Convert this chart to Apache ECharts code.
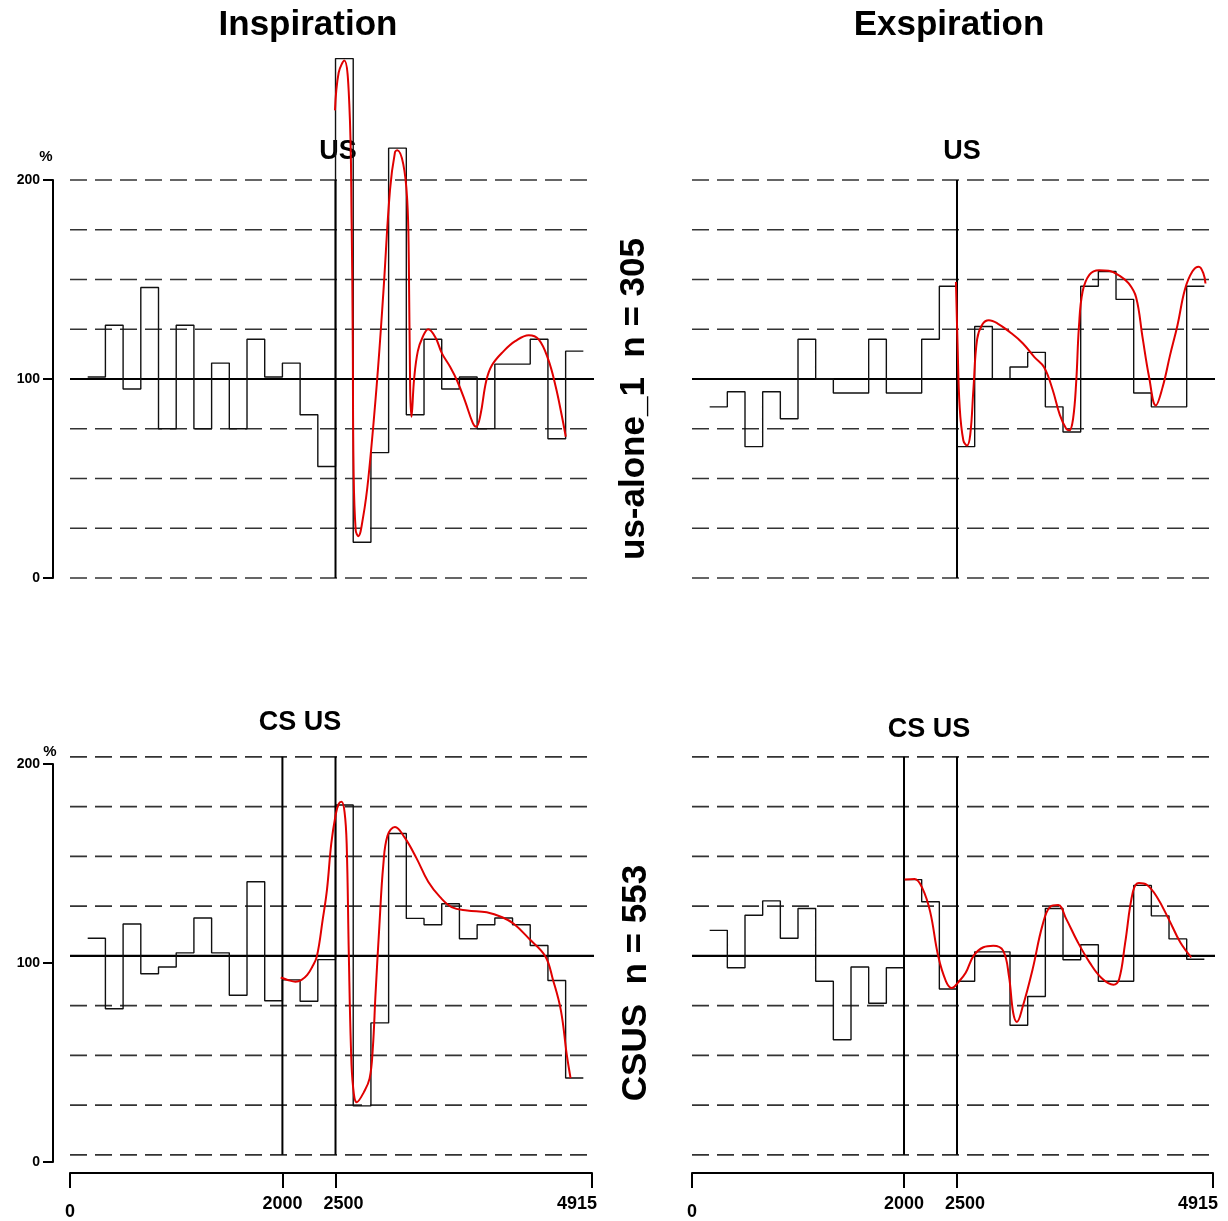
<!DOCTYPE html>
<html><head><meta charset="utf-8">
<script src="https://cdn.jsdelivr.net/npm/echarts@6/dist/echarts.min.js"></script>
<style>html,body{margin:0;padding:0;background:#fff}#c{width:1228px;height:1221px}</style>
</head><body><div id="c"></div>
<script>
// ---- data ----
const binStart = 166.67, binWidth = 166.67;   // ms
const xTicks = [0, 2000, 2500, 4915];
const yTicks = [0, 100, 200];

// histogram (% per bin), 28 bins
const inspUS  = [101,127,95,146,75,127,75,108,75,120,101,108,82,56,261,18,63,216,82,120,95,101,75,107.5,107.5,120,70,114];
const expUS   = [86,93.6,66,93.6,80,120,100,93,93,120,93,93,120,146.6,66,126.4,100,106,113.4,86,73.4,146.6,154,140,93,86,86,146.6];
const inspCSUS= [112.4,77,119.6,94.6,98,105.1,122.6,105.1,83.8,140.8,81,91.5,80.8,101.7,179.4,28.2,69.9,165.1,122.4,119.2,129.8,112.2,119.2,122.6,119.2,108.8,91.2,42.2];
const expCSUS = [116.4,97.6,124,131.2,112.4,127.4,90.8,61.4,98,79.8,97.6,141.9,130.8,86.9,90.8,105.6,105.6,68.7,83.2,127.4,101.6,109.2,90.8,90.8,139,123.7,112.1,101.9];

// red smoothed curves
const inspUSfitX = [2495,2530,2583,2630,2652,2662,2670,2690,2714,2761,2809,2888,2950,3013,3060,3082,3138,3175,3190,3203,3215,3240,3275,3320,3373,3440,3501,3580,3646,3719,3792,3825,3865,3919,3974,4083,4192,4320,4411,4502,4574,4629,4668];
const inspUSfitY = [235,254,260,238,178,122,55,24,21,31,50,97,143,195,214,215,208,190,160,95,81,100,114,121,125,121,113,106,99,89,78,76,82,99,107,114,119,122,120,110,96,82,71];

const expUSfitX = [2490,2505,2525,2560,2595,2625,2655,2690,2740,2800,2880,3000,3120,3230,3320,3400,3470,3530,3560,3595,3625,3650,3685,3750,3840,3930,4030,4120,4190,4250,4312,4375,4440,4510,4580,4650,4720,4781,4825,4844];
const expUSfitY = [148.8,118,86,69.1,66.6,72,95,120,127.5,129.5,128,123.5,118,111,106,95,82,75,74.2,80,99,126,144,152.5,154.7,154.4,152,148,141,121,101,86.7,96,112,127,145,154,156.4,153,148];

const inspCSUSfitX = [1984,2050,2123,2180,2234,2280,2325,2380,2420,2460,2500,2530,2557,2585,2605,2625,2645,2665,2700,2766,2821,2851,2877,2913,2950,2990,3060,3152,3262,3373,3483,3593,3740,3924,4070,4181,4328,4475,4548,4622,4677,4713];
const inspCSUSfitY = [92.7,91.5,90.6,91.5,94,98,103.4,122,137,160,174,180,181,176,160,105,58,38,30,35,42,57,84.7,118.7,149.3,164,168.4,163,152.7,140.8,133.2,128.1,126.4,125.5,123,119.6,111.9,103.4,91.5,76.2,54.1,42.2];

const expCSUSfitX = [2006,2099,2173,2247,2322,2396,2452,2507,2582,2656,2749,2842,2935,2990,3030,3065,3120,3213,3306,3380,3455,3529,3640,3752,3863,3975,4030,4086,4160,4216,4290,4383,4495,4606,4710];
const expCSUSfitY = [141.9,142.2,137.6,125.7,103.6,90.8,87.4,90,95.1,103.6,107.9,108.7,106.2,93.4,75,70.4,78.1,96.8,118.9,128.3,129.1,122.3,110.4,100.2,92.5,89.1,92,110,135.9,140.2,139.3,133.4,122.3,110.4,102.8];

// reference lines
const gridTop = [0,25,50,75,125,150,175,200], baseTop = 100;
const gridBot = [3.6,28.6,53.6,78.6,128.6,153.6,178.6,203.6], baseBot = 103.6;
const eventsTop = [2500], eventsBot = [2000, 2500];

// ---- chart ----
const FONT = '"Liberation Sans", Arial, sans-serif';
const chart = echarts.init(document.getElementById('c'), null, {renderer: 'canvas'});

const grids = [
  {left: 70, top: 180, width: 522, height: 398},
  {left: 692, top: 180, width: 521, height: 398},
  {left: 70, top: 764, width: 522, height: 400},
  {left: 692, top: 764, width: 521, height: 400}
];

const LBL = {fontFamily: FONT, fontWeight: 'bold', fontSize: 18, color: '#000'};
function xAxisFor(i, show) {
  return {
    type: 'value', gridIndex: i, min: 0, max: 4915, show: show, offset: 11, position: 'bottom',
    axisLine: {show: show, onZero: false, lineStyle: {color: '#000', width: 2}},
    axisTick: {show: show, customValues: xTicks, length: 15, inside: false, lineStyle: {color: '#000', width: 2}},
    axisLabel: {show: show, customValues: xTicks, margin: 22, color: '#000',
      fontFamily: FONT, fontWeight: 'bold', fontSize: 18,
      formatter: function (v) {
        if (v === 0) return '{z|0}';
        if (v === 2500) return '{b|2500}';
        if (v === 4915) return '{e|4915}';
        return '{n|' + v + '}';
      },
      rich: {
        z: Object.assign({padding: [8, 0, 0, 0]}, LBL),
        n: Object.assign({}, LBL),
        b: Object.assign({padding: [0, 0, 0, 16]}, LBL),
        e: Object.assign({padding: [0, 30, 0, 0]}, LBL)
      }
    },
    splitLine: {show: false}
  };
}
function yAxisFor(i, show) {
  return {
    type: 'value', gridIndex: i, min: 0, max: 200, interval: 100, show: show, offset: 17, position: 'left',
    axisLine: {show: show, onZero: false, lineStyle: {color: '#000', width: 2}},
    axisTick: {show: show, length: 10, lineStyle: {color: '#000', width: 2}},
    axisLabel: {show: show, margin: 13, color: '#000', fontFamily: FONT, fontWeight: 'bold', fontSize: 14},
    splitLine: {show: false}
  };
}

const series = [];
function addPanel(gi, hist, fitX, fitY, gridVals, base, events) {
  const common = {xAxisIndex: gi, yAxisIndex: gi, type: 'line', symbol: 'none', silent: true, clip: false, animation: false};
  gridVals.forEach(v => series.push(Object.assign({}, common, {
    data: [[0, v], [4955, v]], z: 1,
    lineStyle: {color: '#333', width: 1.6, type: [17, 8]}
  })));
  series.push(Object.assign({}, common, {
    data: [[0, base], [4955, base]], z: 2, lineStyle: {color: '#000', width: 2.2}
  }));
  const histData = hist.map((v, k) => [binStart + k * binWidth, v]);
  histData.push([binStart + hist.length * binWidth, hist[hist.length - 1]]);
  series.push(Object.assign({}, common, {
    data: histData, step: 'end', z: 3, lineStyle: {color: '#111', width: 1.4}
  }));
  events.forEach(e => series.push(Object.assign({}, common, {
    data: [[e, gridVals[0]], [e, gridVals[gridVals.length - 1]]], z: 4, lineStyle: {color: '#000', width: 2}
  })));
  series.push(Object.assign({}, common, {
    data: fitX.map((x, k) => [x, fitY[k]]), smooth: 0.4, z: 5,
    lineStyle: {color: '#e00000', width: 2}
  }));
}
addPanel(0, inspUS, inspUSfitX, inspUSfitY, gridTop, baseTop, eventsTop);
addPanel(1, expUS, expUSfitX, expUSfitY, gridTop, baseTop, eventsTop);
addPanel(2, inspCSUS, inspCSUSfitX, inspCSUSfitY, gridBot, baseBot, eventsBot);
addPanel(3, expCSUS, expCSUSfitX, expCSUSfitY, gridBot, baseBot, eventsBot);

function txt(x, y, s, size, rot) {
  return {type: 'text', x: x, y: y, rotation: rot || 0, silent: true,
    style: {text: s, fill: '#000', font: 'bold ' + size + 'px ' + FONT, textAlign: 'center', textVerticalAlign: 'middle'}};
}

chart.setOption({
  backgroundColor: '#fff',
  animation: false,
  grid: grids,
  xAxis: [xAxisFor(0, false), xAxisFor(1, false), xAxisFor(2, true), xAxisFor(3, true)],
  yAxis: [yAxisFor(0, true), yAxisFor(1, false), yAxisFor(2, true), yAxisFor(3, false)],
  series: series,
  graphic: [
    txt(308, 25, 'Inspiration', 35),
    txt(949, 25, 'Exspiration', 35),
    txt(338, 152, 'US', 27),
    txt(962, 152, 'US', 27),
    txt(300, 723, 'CS US', 27),
    txt(929, 730, 'CS US', 27),
    txt(634, 399, 'us-alone_1  n = 305', 35, Math.PI / 2),
    txt(636, 983, 'CSUS  n = 553', 35, Math.PI / 2),
    txt(46, 157, '%', 15),
    txt(50, 752, '%', 15)
  ]
});
</script></body></html>
